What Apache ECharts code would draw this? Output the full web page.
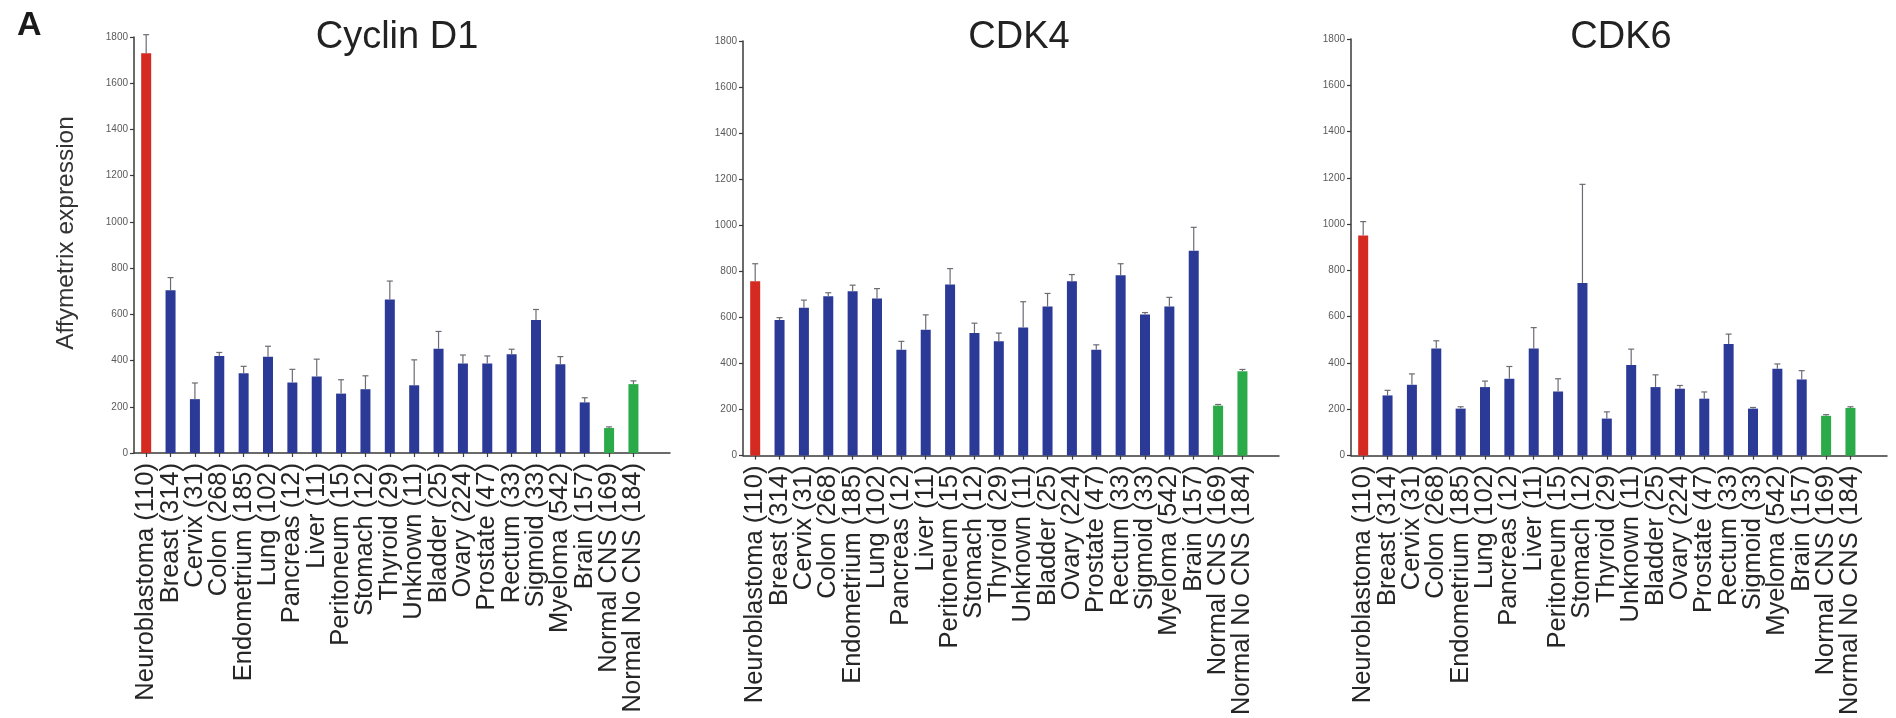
<!DOCTYPE html>
<html>
<head>
<meta charset="utf-8">
<script src="https://cdn.jsdelivr.net/npm/echarts@6/dist/echarts.min.js"></script>
<style>
  html, body { margin: 0; padding: 0; background: #fff; }
  #chart { width: 1896px; height: 718px; }
</style>
</head>
<body>
<div id="chart"></div>
<script>
// Tumour / normal tissue groups (sample counts in brackets)
const categories = [
  'Neuroblastoma (110)', 'Breast (314)', 'Cervix (31)', 'Colon (268)', 'Endometrium (185)',
  'Lung (102)', 'Pancreas (12)', 'Liver (11)', 'Peritoneum (15)', 'Stomach (12)',
  'Thyroid (29)', 'Unknown (11)', 'Bladder (25)', 'Ovary (224)', 'Prostate (47)',
  'Rectum (33)', 'Sigmoid (33)', 'Myeloma (542)', 'Brain (157)', 'Normal CNS (169)',
  'Normal No CNS (184)'
];
// which colour group each bar belongs to
const barGroup = [
  'nb', 'tumor', 'tumor', 'tumor', 'tumor', 'tumor', 'tumor', 'tumor', 'tumor', 'tumor',
  'tumor', 'tumor', 'tumor', 'tumor', 'tumor', 'tumor', 'tumor', 'tumor', 'tumor',
  'normal', 'normal'
];

// Mean Affymetrix expression and upper error per gene
const cyclinD1 = [1730, 704, 233, 420, 345, 417, 305, 331, 257, 276, 664, 293, 451, 387, 387, 427, 575, 384, 219, 108, 298];
const cyclinD1Err = [80, 55, 70, 15, 30, 45, 57, 75, 60, 58, 80, 110, 75, 37, 33, 22, 46, 33, 20, 5, 14];
const cdk4 = [757, 589, 642, 692, 714, 682, 460, 546, 743, 532, 496, 556, 647, 757, 460, 783, 613, 647, 889, 217, 366];
const cdk4Err = [76, 10, 33, 15, 26, 43, 36, 65, 69, 43, 36, 112, 57, 29, 21, 50, 8, 40, 102, 5, 8];
const cdk6 = [951, 260, 306, 463, 203, 296, 332, 463, 277, 746, 160, 392, 296, 289, 246, 482, 203, 375, 329, 172, 206];
const cdk6Err = [60, 22, 47, 33, 8, 26, 53, 90, 55, 426, 29, 68, 53, 14, 29, 43, 5, 21, 38, 5, 5];

const panelTitles = ['Cyclin D1', 'CDK4', 'CDK6'];
const yAxisTitle = 'Affymetrix expression';
const yTicks = { min: 0, max: 1800, interval: 200 };

const palette = { nb: '#d42a22', tumor: '#2b3a97', normal: '#2aaa48' };
const FONT = '"Liberation Sans", Arial, Helvetica, sans-serif';
const AXIS_COLOR = '#3a3a3a';

const panels = [
  { values: cyclinD1, errors: cyclinD1Err, grid: { left: 134, width: 536, top: 37, height: 416 }, titleX: 392 },
  { values: cdk4, errors: cdk4Err, grid: { left: 743, width: 536, top: 41, height: 417 }, titleX: 1014 },
  { values: cdk6, errors: cdk6Err, grid: { left: 1351, width: 536, top: 39, height: 420 }, titleX: 1616 }
];

const chart = echarts.init(document.getElementById('chart'), null, { renderer: 'canvas' });

const option = {
  backgroundColor: '#fff',
  animation: false,
  title: [
    { text: 'A', left: 12, top: 4, textStyle: { fontFamily: FONT, fontSize: 34, fontWeight: 'bold', color: '#1a1a1a' } }
  ].concat(panels.map((p, i) => ({
    text: panelTitles[i], left: p.titleX, top: 14, textAlign: 'center',
    textStyle: { fontFamily: FONT, fontSize: 38, fontWeight: 'normal', color: '#222' }
  }))),
  graphic: [{
    type: 'text',
    x: 66, y: 233,
    rotation: Math.PI / 2,
    style: {
      text: yAxisTitle, fontFamily: FONT, fontSize: 24.5, fill: '#333',
      align: 'center', verticalAlign: 'middle'
    }
  }],
  grid: panels.map(p => Object.assign({ containLabel: false }, p.grid)),
  xAxis: panels.map((p, i) => ({
    type: 'category',
    gridIndex: i,
    data: categories,
    max: categories.length, // axis line runs one band past the last bar
    boundaryGap: true,
    axisLine: { show: true, lineStyle: { color: AXIS_COLOR, width: 1.5 } },
    axisTick: {
      show: true, alignWithLabel: true, length: 4,
      interval: (idx) => idx < categories.length,
      lineStyle: { color: AXIS_COLOR, width: 1.2 }
    },
    axisLabel: {
      interval: 0, rotate: 90, margin: 10,
      fontFamily: FONT, fontSize: 25.5, color: '#262626'
    },
    splitLine: { show: false }
  })),
  yAxis: panels.map((p, i) => ({
    type: 'value',
    gridIndex: i,
    min: yTicks.min, max: yTicks.max, interval: yTicks.interval,
    axisLine: { show: true, lineStyle: { color: AXIS_COLOR, width: 1.5 } },
    axisTick: { show: true, length: 4, lineStyle: { color: AXIS_COLOR, width: 1.2 } },
    axisLabel: {
      fontFamily: FONT, fontSize: 10, color: '#5a5a5a', margin: 6,
      formatter: (v) => String(v)
    },
    splitLine: { show: false }
  })),
  series: []
};

panels.forEach((p, i) => {
  option.series.push({
    type: 'bar',
    xAxisIndex: i, yAxisIndex: i,
    barWidth: 10,
    data: p.values,
    itemStyle: { color: (params) => palette[barGroup[params.dataIndex]] },
    z: 2
  });
  option.series.push({
    type: 'custom',
    xAxisIndex: i, yAxisIndex: i,
    data: p.values.map((v, k) => [k, v, p.errors[k]]),
    encode: { x: 0, y: 1 },
    z: 3,
    renderItem: (params, api) => {
      const x = api.value(0), v = api.value(1), e = api.value(2);
      const base = api.coord([x, v]);
      const top = api.coord([x, v + e]);
      const style = { stroke: '#6f6a74', lineWidth: 1.2 };
      return {
        type: 'group',
        children: [
          { type: 'line', shape: { x1: base[0], y1: base[1], x2: top[0], y2: top[1] }, style },
          { type: 'line', shape: { x1: top[0] - 3, y1: top[1], x2: top[0] + 3, y2: top[1] }, style }
        ]
      };
    }
  });
});

chart.setOption(option);
</script>
</body>
</html>
